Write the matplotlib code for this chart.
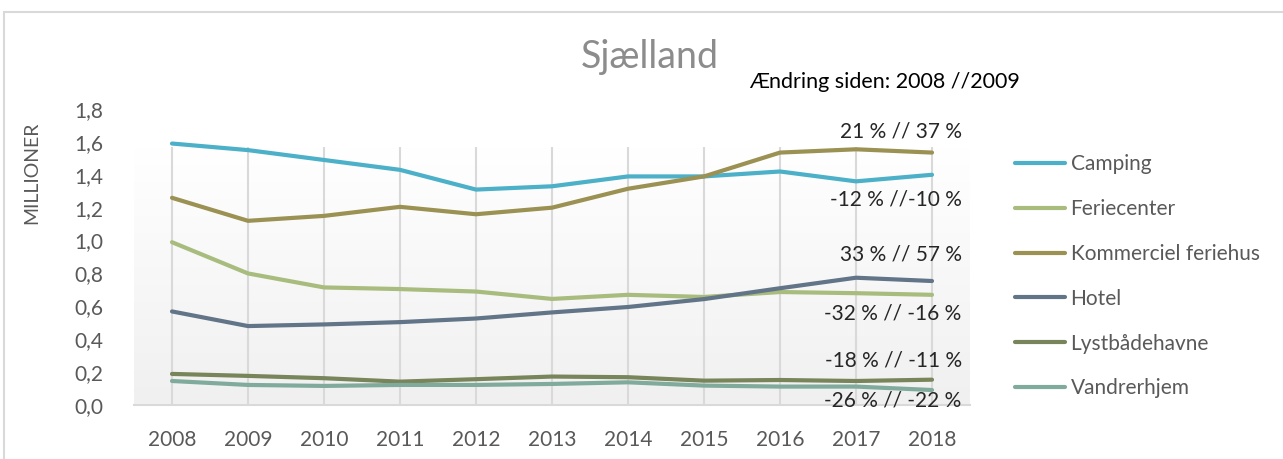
import numpy as np
import matplotlib
matplotlib.use("Agg")
import matplotlib.pyplot as plt
from matplotlib.patches import Rectangle

plt.rcParams["font.family"] = ["Lato", "DejaVu Sans"]

years = list(range(2008, 2019))
camping = [1.59, 1.55, 1.49, 1.43, 1.31, 1.33, 1.39, 1.39, 1.42, 1.36, 1.40]
feriecenter = [0.99, 0.80, 0.715, 0.705, 0.69, 0.645, 0.67, 0.657, 0.687, 0.68, 0.67]
kommerciel = [1.26, 1.12, 1.15, 1.205, 1.16, 1.20, 1.315, 1.39, 1.535, 1.555, 1.535]
hotel = [0.569, 0.48, 0.49, 0.504, 0.526, 0.563, 0.596, 0.644, 0.71, 0.774, 0.754]
lystbaade = [0.189, 0.177, 0.163, 0.142, 0.157, 0.173, 0.169, 0.148, 0.152, 0.146, 0.154]
vandrerhjem = [0.146, 0.122, 0.116, 0.122, 0.122, 0.128, 0.138, 0.118, 0.112, 0.112, 0.091]

series = [
    ("Camping", camping, "#4bb0c8"),
    ("Feriecenter", feriecenter, "#a8bc7e"),
    ("Kommerciel feriehus", kommerciel, "#9a9152"),
    ("Hotel", hotel, "#627487"),
    ("Lystbådehavne", lystbaade, "#78845a"),
    ("Vandrerhjem", vandrerhjem, "#80ab9c"),
]

changes = ["21 % // 37 %", "-12 % //-10 %", "33 % // 57 %",
           "-32 % // -16 %", "-18 % // -11 %", "-26 % // -22 %"]
change_y = [1.665, 1.25, 0.915, 0.555, 0.268, 0.03]

yticks = [0.0, 0.2, 0.4, 0.6, 0.8, 1.0, 1.2, 1.4, 1.6, 1.8]
ytick_labels = [f"{v:.1f}".replace(".", ",") for v in yticks]

W, H = 1283, 459
fig = plt.figure(figsize=(W / 100, H / 100), dpi=100)
fig.patches.append(Rectangle((4 / W, -0.05), 1.2, 1 - 12 / H + 0.05,
                             transform=fig.transFigure, fill=False,
                             edgecolor="#d9d9d9", linewidth=1.5))

ax = fig.add_axes([134 / W, 54 / H, 836 / W, 296 / H])
ax.set_xlim(2007.5, 2018.5)
ax.set_ylim(0, 1.8)

# plot area gradient (white top -> light gray bottom)
top = 1.567
grad = np.linspace(1.0, 0.0, 256).reshape(-1, 1)
ax.imshow(grad, extent=[2007.5, 2018.5, 0, top], aspect="auto",
          cmap=matplotlib.colors.LinearSegmentedColormap.from_list("g", ["#f0f0f0", "#ffffff"]),
          zorder=0, origin="upper")
ax.vlines(years, 0, top, color="#d9d9d9", linewidth=1.5, zorder=1)

for name, vals, col in series:
    ax.plot(years, vals, color=col, linewidth=3, solid_capstyle="round",
            solid_joinstyle="round", label=name, zorder=3)

for txt, y in zip(changes, change_y):
    ax.text(2018.39, y, txt, ha="right", va="center", fontsize=15,
            color="#262626", zorder=4)

fig.text(1020 / W, 1 - 82 / H, "Ændring siden: 2008 //2009",
         ha="right", va="center", fontsize=15.5, color="#000000")

fig.text(650 / W, 1 - 57 / H, "Sjælland", ha="center", va="center", fontsize=27,
         color="#8c8c8c")

for s in ["top", "right", "left"]:
    ax.spines[s].set_visible(False)
ax.spines["bottom"].set_color("#d9d9d9")
ax.spines["bottom"].set_linewidth(1.5)
ax.set_xticks(years)
ax.set_xticklabels([str(y) for y in years])
ax.set_yticks(yticks)
ax.set_yticklabels(ytick_labels)
ax.tick_params(axis="both", length=0, labelsize=15, labelcolor="#595959")
ax.tick_params(axis="x", pad=18)
ax.tick_params(axis="y", pad=22)
ax.set_ylabel("MILLIONER", fontsize=14, color="#595959")
ax.yaxis.set_label_coords(-0.1124, 0.783)

leg = ax.legend(loc="upper left", bbox_to_anchor=(1007 / W, 1 - 146 / H),
                bbox_transform=fig.transFigure, frameon=False, fontsize=15,
                labelcolor="#595959", handlelength=2.4, handletextpad=0.25,
                labelspacing=1.19, borderaxespad=0)

fig.savefig("out.png", dpi=100)
